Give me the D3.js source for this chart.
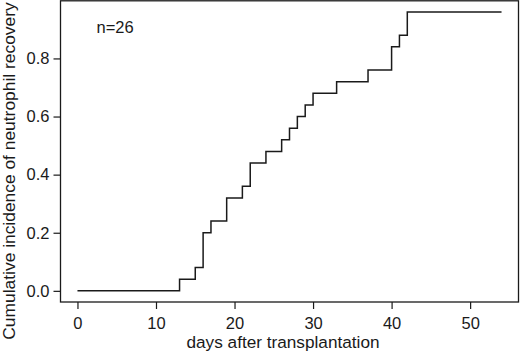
<!DOCTYPE html>
<html lang="en">
<head>
<meta charset="UTF-8">
<title>Cumulative incidence</title>
<style>
  body { margin: 0; background: #fff; }
  svg { display: block; font-family: "Liberation Sans", Arial, sans-serif; }
  .axis text { font-size: 16.5px; fill: #1a1a1a; }
  .axis line { stroke: #1a1a1a; stroke-width: 1.2; }
</style>
</head>
<body>
<svg id="chart"></svg>
<script src="https://cdn.jsdelivr.net/npm/d3@7"></script>
<script>
// data
var days = [0, 13, 15, 16, 17, 19, 21, 22, 24, 26, 27, 28, 29, 30, 33, 37, 40, 41, 42, 54];
var incidence = [0, 0.04, 0.08, 0.20, 0.24, 0.32, 0.36, 0.44, 0.48, 0.52, 0.56, 0.60, 0.64, 0.68, 0.72, 0.76, 0.84, 0.88, 0.96, 0.96];
var xTicks = [0, 10, 20, 30, 40, 50];
var yTicks = [0, 0.2, 0.4, 0.6, 0.8];

var w = 520, h = 356;
var box = {left: 60.5, right: 518.5, top: 0.8, bottom: 302};

var svg = d3.select("#chart").attr("width", w).attr("height", h);

// R style: 4% padding on both ends of the data range
var xMin = d3.min(days), xMax = d3.max(days);
var yMin = 0, yMax = d3.max(incidence);
var xPad = (xMax - xMin) * 0.04, yPad = (yMax - yMin) * 0.04;

var x = d3.scaleLinear().domain([xMin - xPad, xMax + xPad]).range([box.left, box.right]);
var y = d3.scaleLinear().domain([yMin - yPad, yMax + yPad]).range([box.bottom, box.top]);

// plot frame
svg.append("rect")
  .attr("x", box.left).attr("y", box.top)
  .attr("width", box.right - box.left).attr("height", box.bottom - box.top)
  .attr("fill", "none").attr("stroke", "#1a1a1a").attr("stroke-width", 1.3);

// axes
var xAxis = d3.axisBottom(x).tickValues(xTicks).tickSize(7).tickPadding(8).tickFormat(d3.format("d"));
svg.append("g").attr("class", "axis")
  .attr("transform", "translate(0," + box.bottom + ")")
  .call(xAxis)
  .call(function(g) { g.select(".domain").remove(); });

var yAxis = d3.axisLeft(y).tickValues(yTicks).tickSize(7).tickPadding(4).tickFormat(d3.format(".1f"));
svg.append("g").attr("class", "axis")
  .attr("transform", "translate(" + box.left + ",0)")
  .call(yAxis)
  .call(function(g) { g.select(".domain").remove(); });

// step curve
var pts = days.map(function(d, i) { return [d, incidence[i]]; });
var line = d3.line()
  .x(function(d) { return x(d[0]); })
  .y(function(d) { return y(d[1]); })
  .curve(d3.curveStepAfter);

svg.append("path")
  .datum(pts)
  .attr("d", line)
  .attr("fill", "none")
  .attr("stroke", "#1a1a1a")
  .attr("stroke-width", 1.5);

// labels
svg.append("text")
  .attr("x", 96.5).attr("y", 33.3)
  .attr("font-size", "16.5px").attr("fill", "#1a1a1a")
  .text("n=26");

svg.append("text")
  .attr("x", 283).attr("y", 347.5)
  .attr("text-anchor", "middle")
  .attr("font-size", "17.2px").attr("fill", "#1a1a1a")
  .text("days after transplantation");

svg.append("text")
  .attr("transform", "translate(14.5,171) rotate(-90)")
  .attr("text-anchor", "middle")
  .attr("font-size", "17.4px").attr("fill", "#1a1a1a")
  .text("Cumulative incidence of neutrophil recovery");
</script>
</body>
</html>
